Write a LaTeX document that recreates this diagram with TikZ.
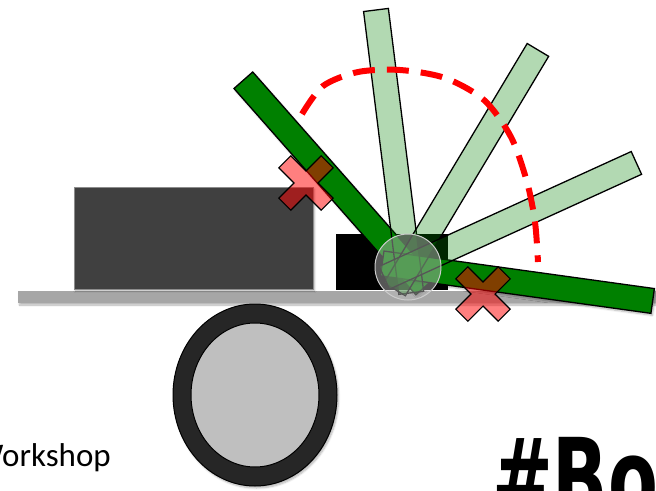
\documentclass[tikz,border=0pt]{standalone}
\usepackage{fontspec}
\setmainfont{Carlito}
\newfontfamily\logofont{DejaVu Sans}
\usetikzlibrary{shadows.blur}

\tikzset{
  soft shadow/.style={blur shadow={shadow xshift=1.5pt, shadow yshift=-2pt,
      shadow opacity=30, shadow blur steps=6}},
  solid arm/.style={draw=black, line width=1.3pt, fill=green!50!black, soft shadow},
  ghost arm/.style={draw=black, line width=1.3pt, fill=green!50!black, fill opacity=0.3},
  no go/.style={draw=black, line width=1.1pt, fill=red, fill opacity=0.5},
  sweep/.style={red, line width=6pt, dash pattern=on 22pt off 12pt},
}

\begin{document}
\begin{tikzpicture}[x=1pt, y=-1pt]
\def\w{12.5}  % half width of an arm
\def\b{26}    % how far an arm reaches behind the pivot
\def\xl{30}   % half length of a cross bar
\def\xw{8.5}  % half width of a cross bar
\clip (0,0) rectangle (656,490);

\coordinate (piv) at (408,267);

% floor, body, mount
\fill[black!35, soft shadow] (18,291) rectangle (656,303);
\draw[black!45, fill=black!75, soft shadow] (74,187) rectangle (313,289);
\fill[black] (336,234) rectangle (448,290);

% wheel
\draw[line width=1pt, fill=black!85, soft shadow] (255,395) ellipse (82 and 91);
\draw[line width=1pt, fill=black!25] (255,395) ellipse (64 and 72);

% the two end positions of the arm
\foreach \a/\l in {131.4/249, -7.9/247}{
  \begin{scope}[shift={(piv)}, rotate=\a]
    \draw[solid arm] (-\b,-\w) rectangle (\l,\w);
  \end{scope}
}
% positions in between
\foreach \a/\l in {97.1/259, 59.1/253, 24.5/251}{
  \begin{scope}[shift={(piv)}, rotate=\a]
    \draw[ghost arm] (-\b,-\w) rectangle (\l,\w);
  \end{scope}
}

% pivot
\draw[black!20, line width=1pt, fill=black!25, fill opacity=0.45] (piv) circle (33);

% swept range
\draw[sweep] plot[smooth] coordinates {(302,114) (323,86) (358,72) (400,70)
  (445,78) (484,100) (511,137) (527,182) (535,222) (538,262)};

% blocked positions
\foreach \cx/\cy in {306/183, 483/294}{
  \begin{scope}[shift={(\cx,\cy)}, rotate=45]
    \draw[no go] (-\xw,-\xl) -- (\xw,-\xl) -- (\xw,-\xw) -- (\xl,-\xw) -- (\xl,\xw)
      -- (\xw,\xw) -- (\xw,\xl) -- (-\xw,\xl) -- (-\xw,\xw) -- (-\xl,\xw)
      -- (-\xl,-\xw) -- (-\xw,-\xw) -- cycle;
  \end{scope}
}

\node[anchor=base west, inner sep=0, font=\fontsize{33}{38}\selectfont] (ws) at (-26,466) {Workshop};
\node[anchor=base west, inner sep=0, xscale=0.66, font=\logofont\bfseries\fontsize{110}{120}\selectfont] (logo) at (492,517) {\#Bot};
\end{tikzpicture}
\end{document}
